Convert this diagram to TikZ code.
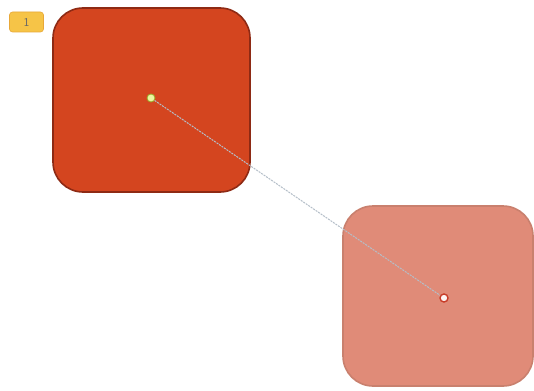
\documentclass[tikz,border=0pt]{standalone}
\usepackage{tikz}
\definecolor{darkfill}{HTML}{D4451F}
\definecolor{darkedge}{HTML}{8E2A14}
\definecolor{lightfill}{HTML}{E08B78}
\definecolor{lightedge}{HTML}{C9806E}
\definecolor{badgefill}{HTML}{F6C447}
\definecolor{badgeedge}{HTML}{E8A838}
\definecolor{linkcol}{HTML}{B4BEC8}
\tikzset{
  sq/.style={rounded corners=30pt, line width=1.6pt},
  startdot/.style={circle, minimum size=8pt, inner sep=0pt, fill={rgb,255:red,236;green,244;blue,160}, draw={rgb,255:red,150;green,170;blue,40}, line width=0.8pt},
  enddot/.style={circle, minimum size=8pt, inner sep=0pt, fill=white!90!lightfill, draw={rgb,255:red,200;green,60;blue,40}, line width=1.4pt},
  badge/.style={rounded corners=3pt, fill=badgefill, draw=badgeedge, line width=0.6pt, minimum width=34pt, minimum height=20pt, inner sep=0pt, font=\sffamily\large, text=black!60},
  link/.style={draw=linkcol, line width=1pt, dashed, dash pattern=on 2pt off 1pt}
}
\begin{document}
\begin{tikzpicture}[x=1pt,y=-1pt]
\useasboundingbox[fill=white] (0,0) rectangle (534,390);
\draw[sq, fill=darkfill, draw=darkedge] (53,8) rectangle (250,192);
\draw[sq, fill=lightfill, draw=lightedge] (343,206) rectangle (533,386);
\node[badge] (b) at (26.5,22) {1};
\node[startdot] (s) at (151,98) {};
\node[enddot] (e) at (444,298) {};
\draw[link] (s) -- (e);
\end{tikzpicture}
\end{document}
